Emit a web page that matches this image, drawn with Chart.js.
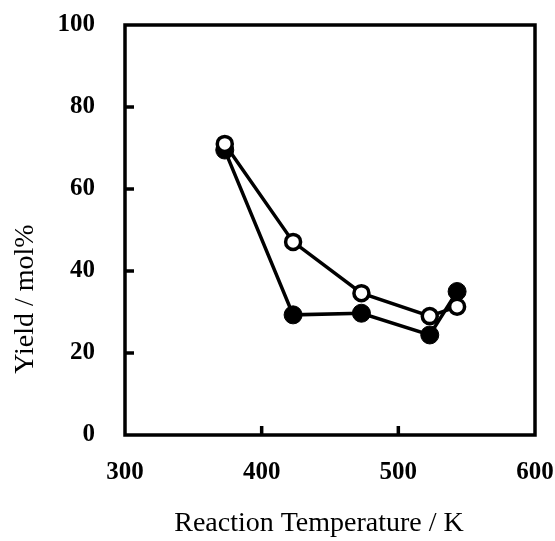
<!DOCTYPE html>
<html lang="en">
<head>
    <meta charset="UTF-8">
    <title>Yield vs Reaction Temperature</title>
    <script src="https://cdn.jsdelivr.net/npm/chart.js@4/dist/chart.umd.min.js"></script>
    <style>
        body { margin: 0; background: #fff; }
    </style>
</head>
<body>
    <div style="width: 555px; height: 541px;">
        <canvas id="wykres" width="555" height="541"></canvas>
    </div>
    <script>
        // data
        const temperatures = [373, 423, 473, 523, 543];
        const yieldFilled = [69.5, 29.3, 29.7, 24.4, 35.0];
        const yieldOpen = [71.0, 47.1, 34.6, 29.0, 31.3];
        const xTicks = [300, 400, 500, 600];
        const yTicks = [0, 20, 40, 60, 80, 100];
        const yTitle = "Yield / mol%";
        const xTitle = "Reaction Temperature / K";

        const serif = "'Times New Roman', 'Liberation Serif', serif";

        function pts(ys) {
            return temperatures.map((t, i) => ({ x: t, y: ys[i] }));
        }

        // frame, inward ticks and both axis titles
        const frame = {
            id: 'frame',
            afterDraw(chart) {
                const c = chart.ctx;
                const a = chart.chartArea;
                const xs = chart.scales.x;
                const ys = chart.scales.y;
                c.save();
                c.strokeStyle = '#000';
                c.lineWidth = 3.5;
                c.strokeRect(a.left, a.top, a.right - a.left, a.bottom - a.top);
                c.beginPath();
                for (let v of xTicks) {
                    if (v == xs.min || v == xs.max) continue;
                    let px = xs.getPixelForValue(v);
                    c.moveTo(px, a.bottom);
                    c.lineTo(px, a.bottom - 9);
                }
                for (let v of yTicks) {
                    if (v == ys.min || v == ys.max) continue;
                    let py = ys.getPixelForValue(v);
                    c.moveTo(a.left, py);
                    c.lineTo(a.left + 9, py);
                }
                c.stroke();
                c.fillStyle = '#000';
                c.font = '28px ' + serif;
                c.textAlign = 'center';
                c.textBaseline = 'middle';
                c.fillText(xTitle, 319, 524);
                c.translate(26, 299);
                c.rotate(-Math.PI / 2);
                c.fillText(yTitle, 0, 0);
                c.restore();
            }
        };

        const dane = {
            datasets: [
                {
                    label: "filled",
                    data: pts(yieldFilled),
                    showLine: true,
                    borderColor: "#000",
                    backgroundColor: "#000",
                    borderWidth: 3.5,
                    pointRadius: 9,
                    pointBorderWidth: 1,
                    pointBackgroundColor: "#000",
                    pointBorderColor: "#000",
                    order: 2
                },
                {
                    label: "open",
                    data: pts(yieldOpen),
                    showLine: true,
                    borderColor: "#000",
                    backgroundColor: "#fff",
                    borderWidth: 3.5,
                    pointRadius: 7.5,
                    pointBorderWidth: 3.5,
                    pointBackgroundColor: "#fff",
                    pointBorderColor: "#000",
                    order: 1
                }
            ]
        };

        const ctx = document.getElementById('wykres').getContext('2d');
        const wykres = new Chart(ctx, {
            type: 'scatter',
            data: dane,
            plugins: [frame],
            options: {
                responsive: false,
                animation: false,
                layout: { padding: { top: 25, right: 20, left: 0, bottom: 0 } },
                plugins: { legend: { display: false }, tooltip: { enabled: false } },
                scales: {
                    x: {
                        type: 'linear',
                        min: 300,
                        max: 600,
                        afterBuildTicks: (s) => { s.ticks = xTicks.map(v => ({ value: v })); },
                        afterFit: (s) => { s.height = 106; s.paddingLeft = 0; s.paddingRight = 0; },
                        grid: { display: false, drawTicks: false },
                        border: { display: false },
                        ticks: {
                            color: '#000',
                            padding: 23,
                            maxRotation: 0,
                            font: { family: serif, size: 25, weight: 'bold' }
                        }
                    },
                    y: {
                        type: 'linear',
                        min: 0,
                        max: 100,
                        afterBuildTicks: (s) => { s.ticks = yTicks.map(v => ({ value: v })); },
                        afterFit: (s) => { s.width = 125; s.paddingTop = 0; s.paddingBottom = 0; },
                        grid: { display: false, drawTicks: false },
                        border: { display: false },
                        ticks: {
                            color: '#000',
                            padding: 30,
                            font: { family: serif, size: 25, weight: 'bold' }
                        }
                    }
                }
            }
        });
    </script>
</body>
</html>
